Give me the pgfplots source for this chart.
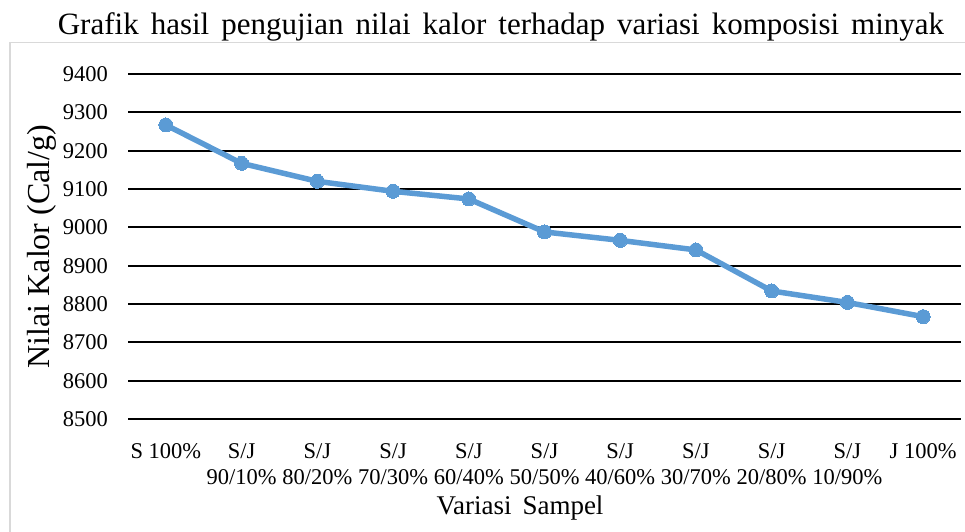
\documentclass[border=0pt]{standalone}
\usepackage{fontspec}
\setmainfont{Liberation Serif}
\usepackage{pgfplots}
\pgfplotsset{compat=1.18}
\definecolor{lineblue}{RGB}{91,155,213}
\definecolor{framegray}{RGB}{217,217,217}
\begin{document}
\begin{tikzpicture}[x=1pt,y=1pt]
\useasboundingbox (0,0) rectangle (965,531);
\draw[framegray, line width=1.5pt] (10,-10) rectangle (975,488.5);
\node[font=\fontsize{31}{34}\selectfont, anchor=base] at (501,496) {\spaceskip=12pt\relax Grafik hasil pengujian nilai kalor terhadap variasi komposisi minyak};
\begin{axis}[
  at={(128pt,112pt)}, anchor=south west,
  scale only axis, width=833pt, height=345pt,
  xmin=-0.5, xmax=10.5, ymin=8500, ymax=9400,
  ytick={8500,8600,...,9400},
  xtick={0,...,10},
  xticklabels={S 100\%, S/J\\90/10\%, S/J\\80/20\%, S/J\\70/30\%, S/J\\60/40\%, S/J\\50/50\%, S/J\\40/60\%, S/J\\30/70\%, S/J\\20/80\%, S/J\\10/90\%, J 100\%},
  axis line style={draw=none},
  major tick length=0pt,
  ymajorgrids,
  grid style={black, line width=2pt},
  /pgf/number format/assume math mode=true,
  /pgf/number format/set thousands separator={},
  yticklabel style={font=\fontsize{22.5}{26}\selectfont, anchor=east, inner sep=0pt, xshift=-20pt},
  xticklabel style={font=\fontsize{22.5}{26.5}\selectfont, align=center, anchor=north, inner sep=0pt, yshift=-24pt},
  xlabel={\spaceskip=11pt\relax Variasi Sampel},
  xlabel style={font=\fontsize{27}{30}\selectfont, at={(axis description cs:0.4706,-0.2754)}, anchor=base},
  ylabel={Nilai Kalor (Cal/g)},
  ylabel style={font=\fontsize{32}{36}\selectfont, at={(axis description cs:-0.1032,0.5)}, anchor=center},
  clip=false,
]
\addplot[color=lineblue, line width=5.5pt, mark=*, mark size=7pt, mark options={fill=lineblue, draw=lineblue, line width=0pt}]
coordinates {(0,9267) (1,9167) (2,9120) (3,9094) (4,9074) (5,8988) (6,8966) (7,8941) (8,8834) (9,8804) (10,8767)};
\end{axis}
\end{tikzpicture}
\end{document}
